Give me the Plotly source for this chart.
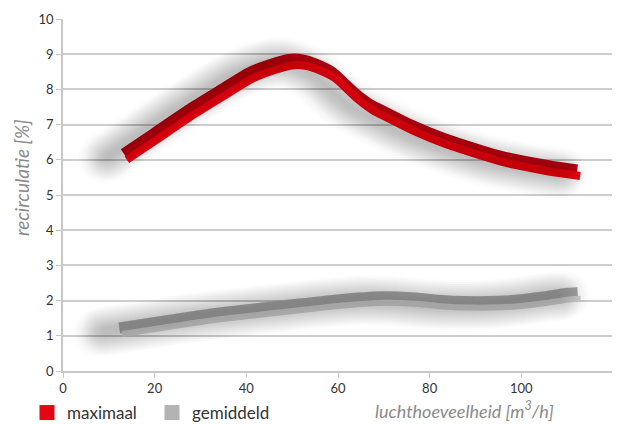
import plotly.graph_objects as go

# ---- data ----
x_max = [13.5, 20, 28.4, 35, 40.8, 46, 49.5, 52.5, 55.4, 59, 62, 64.1, 67, 70.7,
         76.4, 83, 91, 96, 101.9, 107, 112.4]
y_max = [6.1, 6.67, 7.41, 7.94, 8.4, 8.66, 8.78, 8.77, 8.65, 8.41, 8.05, 7.8, 7.52, 7.27,
         6.9, 6.55, 6.21, 6.02, 5.86, 5.74, 5.64]

x_gem = [12.5, 20, 30, 40, 51.7, 60, 69.8, 77.2, 82, 88.1, 93, 99, 105, 110, 112.5]
y_gem = [1.15, 1.3, 1.5, 1.66, 1.83, 1.95, 2.04, 2.0, 1.94, 1.9, 1.9, 1.94, 2.03, 2.13, 2.15]

x_ticks = [0, 20, 40, 60, 80, 100, 120]
y_ticks = [0, 1, 2, 3, 4, 5, 6, 7, 8, 9, 10]

# ---- layout geometry (page body has an 8px margin, so the figure is offset) ----
OFF = 8
W, H = 620 - OFF, 424 - OFF
# plot area in screen pixels: left 63, right 613, top 19, bottom 371
ML, MT = 63 - OFF, 19 - OFF
MR = W - (613 - OFF)
MB = H - (371 - OFF)
PW, PH = W - ML - MR, H - MT - MB
XR, YR = [0, 120], [0, 10]

def sx(px):  # screen x -> paper
    return (px - OFF - ML) / PW

def sy(py):  # screen y -> paper
    return (H - MB - (py - OFF)) / PH

def shifted(rng, px, span_px):
    d = px * (rng[1] - rng[0]) / span_px
    return [rng[0] - d, rng[1] - d]

RED_D, RED_L = "#b00613", "#e30613"
GRY_D, GRY_L = "#9a9a9a", "#c4c4c4"
FONT = "Lato, 'Open Sans', sans-serif"
SPL = dict(shape="spline", smoothing=0.7)

fig = go.Figure()

# soft shadows (axes 2 and 5, shifted left); round ends via markers, uniform alpha via trace opacity
for ax in ["2", "5"]:
    for w in range(8, 50, 4):
        for xs, ys in [(x_max, y_max), (x_gem, y_gem)]:
            fig.add_trace(go.Scatter(x=xs, y=ys, mode="lines+markers", xaxis="x" + ax, yaxis="y" + ax,
                                     line=dict(color="#000000", width=w, **SPL),
                                     marker=dict(color="#000000", size=w, line=dict(width=0)),
                                     opacity=0.0075, showlegend=False, hoverinfo="skip"))

# dark upper ribbons (axes 3, shifted up-left)
for xs, ys, c, w in [(x_max, y_max, RED_D, 11), (x_gem, y_gem, GRY_D, 11)]:
    fig.add_trace(go.Scatter(x=xs, y=ys, mode="lines", xaxis="x3", yaxis="y3",
                             line=dict(color=c, width=w, **SPL),
                             showlegend=False, hoverinfo="skip"))

# light lower ribbons (axes 4, shifted right/down)
for xs, ys, c, w in [(x_max, y_max, RED_L, 8), (x_gem, y_gem, GRY_L, 6)]:
    fig.add_trace(go.Scatter(x=xs, y=ys, mode="lines", xaxis="x4", yaxis="y4",
                             line=dict(color=c, width=w, **SPL),
                             showlegend=False, hoverinfo="skip"))

# legend entries
for name, c in [("maximaal", "#e30613"), ("gemiddeld", "#b3b3b3")]:
    fig.add_trace(go.Scatter(x=[None], y=[None], mode="markers", name=name,
                             marker=dict(symbol="square", size=15, color=c)))

hidden = dict(visible=False, showgrid=False, zeroline=False, fixedrange=True)
fig.update_layout(
    width=W, height=H,
    margin=dict(l=ML, r=MR, t=MT, b=MB, autoexpand=False),
    paper_bgcolor="white", plot_bgcolor="white",
    font=dict(family=FONT, size=13, color="#333333"),
    xaxis=dict(range=XR, tickvals=x_ticks, showgrid=False, zeroline=False, automargin=False,
               showline=True, linecolor="#c8c8c8", linewidth=1.5,
               ticks="outside", ticklen=5, tickcolor="#c8c8c8", tickfont=dict(size=13)),
    yaxis=dict(range=YR, tickvals=y_ticks, showgrid=True, gridcolor="#cdcdcd", gridwidth=1.5,
               zeroline=False, showline=True, linecolor="#c8c8c8", linewidth=1.5, automargin=False,
               ticks="outside", ticklen=5, tickcolor="#c8c8c8", tickfont=dict(size=13)),
    xaxis2=dict(range=shifted(XR, -14, PW), overlaying="x", **hidden),
    yaxis2=dict(range=shifted(YR, 0, PH), overlaying="y", **hidden),
    xaxis5=dict(range=shifted(XR, -22, PW), overlaying="x", **hidden),
    yaxis5=dict(range=shifted(YR, -2, PH), overlaying="y", **hidden),
    xaxis3=dict(range=shifted(XR, -1, PW), overlaying="x", **hidden),
    yaxis3=dict(range=shifted(YR, 2.5, PH), overlaying="y", **hidden),
    xaxis4=dict(range=shifted(XR, 2, PW), overlaying="x", **hidden),
    yaxis4=dict(range=shifted(YR, -3.5, PH), overlaying="y", **hidden),
    legend=dict(orientation="h", xref="container", yref="container",
                x=19 / W, xanchor="left", y=(H - 387) / H, yanchor="top",
                font=dict(size=17, color="#333333"), itemsizing="trace",
                entrywidth=80, entrywidthmode="pixels",
                bgcolor="rgba(0,0,0,0)"),
    showlegend=True,
    annotations=[
        dict(text="luchthoeveelheid [m<sup>3</sup>/h]", xref="paper", yref="paper",
             x=sx(464), y=sy(410), xanchor="center", yanchor="middle",
             showarrow=False,
             font=dict(size=18, color="#8a8a8a", family=FONT, style="italic")),
        dict(text="recirculatie [%]", xref="paper", yref="paper",
             x=sx(21), y=sy(178), xanchor="center", yanchor="middle",
             showarrow=False, textangle=-90,
             font=dict(size=19, color="#8a8a8a", family=FONT, style="italic")),
    ],
)
fig.write_html("out.html")
